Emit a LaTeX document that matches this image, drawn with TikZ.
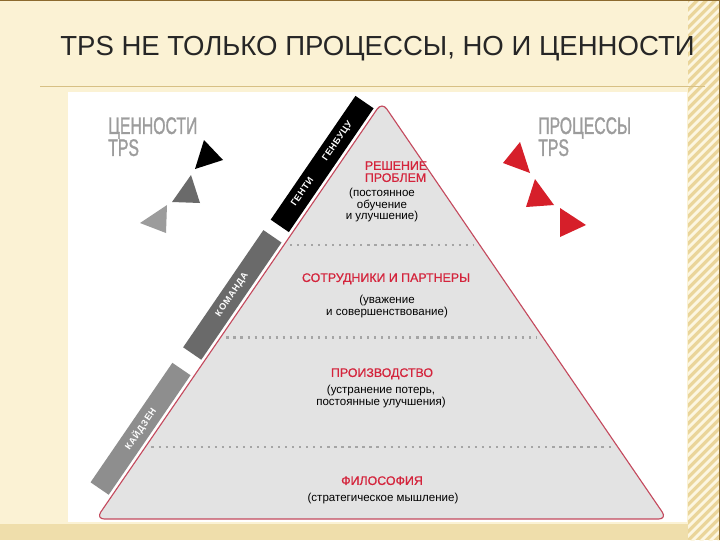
\documentclass[tikz,border=0pt]{standalone}
\usepackage{fontspec}
\setmainfont{Liberation Sans}
\newfontfamily\narrowsans[FakeStretch=0.66,FakeBold=1.2]{Liberation Sans}
\newfontfamily\headfont[FakeBold=0.8]{Liberation Sans}
\usetikzlibrary{calc,positioning}

\definecolor{cream}{HTML}{FBF2D4}
\definecolor{tanstrip}{HTML}{EAD59A}
\definecolor{framebrown}{HTML}{8C6A2E}
\definecolor{titlegray}{HTML}{262626}
\definecolor{labelgray}{HTML}{9C9C9C}
\definecolor{pyrfill}{HTML}{E3E3E3}
\definecolor{pyrline}{HTML}{C44A5E}
\definecolor{headred}{HTML}{D4243C}
\definecolor{tpsred}{HTML}{D61F2A}
\definecolor{banddark}{HTML}{6A6A6A}
\definecolor{bandlight}{HTML}{8E8E8E}
\definecolor{dotgray}{HTML}{A5A5A5}

\tikzset{
  band/.style={rotate=55.6, anchor=south, minimum height=0.55cm, inner sep=0pt,
    text=white, font=\fontsize{6.5}{7}\selectfont\bfseries\addfontfeature{LetterSpace=7}},
  head/.style={text=headred, font=\fontsize{8.8}{8.6}\selectfont\headfont, inner sep=0pt, anchor=north},
  body/.style={text=black, font=\fontsize{8.2}{8.2}\selectfont, align=center, inner sep=0pt, anchor=north},
  dots/.style={dotgray, line width=1.8pt, dash pattern=on 1.6pt off 3.4pt},
  sidelabel/.style={text=labelgray, font=\fontsize{17}{15.6}\selectfont\narrowsans,
    align=left, inner sep=0pt, anchor=north west},
  stripe/.style={cream!70!white, line width=2pt}
}

\begin{document}
\begin{tikzpicture}[x=0.025cm, y=-0.025cm]
  \useasboundingbox (0,0) rectangle (720,540);
  % slide background
  \fill[cream] (0,0) rectangle (720,540);
  \fill[tanstrip!70!cream] (0,524) rectangle (720,540);
  \fill[tanstrip] (688,0) rectangle (720,540);
  \begin{scope}
    \clip (688,0) rectangle (720,540);
    \foreach \k in {0,9,...,600}
      \draw[stripe] (684,\k) -- ++(44,-44);
  \end{scope}
  \draw[framebrown, line width=1.2pt] (0,0.5) -- (719.5,0.5) -- (719.5,540);
  \draw[tanstrip!80!framebrown, line width=0.6pt] (40,86) -- (705,86);
  \node[anchor=base, text=titlegray, font=\fontsize{19.6}{24}\selectfont] (title) at (377.5,55)
    {TPS НЕ ТОЛЬКО ПРОЦЕССЫ, НО И ЦЕННОСТИ};

  % white panel
  \fill[white] (68,92) rectangle (687,522);

  % pyramid corners
  \coordinate (apex) at (382,102);
  \coordinate (bl) at (96,519);
  \coordinate (br) at (667,519);

  % bands along the left side
  \node[band, fill=black, minimum width=3.75cm] (genchi) at ($(apex)!0.168!(bl)+(-2.5,-1.7)$)
    {ГЕНТИ\hspace{16pt}ГЕНБУЦУ\hspace{10pt}};
  \node[band, fill=banddark, minimum width=3.55cm] (team) at ($(apex)!0.482!(bl)+(-2.5,-1.7)$)
    {КОМАНДА};
  \node[band, fill=bandlight, minimum width=3.62cm] (kaizen) at ($(apex)!0.803!(bl)+(-2.5,-1.7)$)
    {КАЙДЗЕН};

  % pyramid
  \draw[pyrline, line width=0.8pt, fill=pyrfill, rounded corners=6pt]
    (apex) -- (br) -- (bl) -- cycle;
  \foreach \t [count=\i] in {0.343,0.565,0.827} {
    \coordinate (d\i l) at ($(apex)!\t!(bl)$);
    \coordinate (d\i r) at ($(apex)!\t!(br)$);
    \draw[dots] ($(d\i l)+(6,0)$) -- ($(d\i r)+(-6,0)$);
  }

  % levels
  \node[head, align=left] (solve) at (396,161) {РЕШЕНИЕ\\ПРОБЛЕМ};
  \node[body] (solvetxt) at (382,188) {(постоянное\\обучение\\и улучшение)};
  \node[head] (people) at (386,273) {СОТРУДНИКИ И ПАРТНЕРЫ};
  \node[body] (peopletxt) at (387,295) {(уважение\\и совершенствование)};
  \node[head] (prod) at (382,368) {ПРОИЗВОДСТВО};
  \node[body] (prodtxt) at (381,385) {(устранение потерь,\\постоянные улучшения)};
  \node[head] (philo) at (382,476) {ФИЛОСОФИЯ};
  \node[body] (philotxt) at (383,493) {(стратегическое мышление)};

  % side labels
  \node[sidelabel] (values) at (108,117) {ЦЕННОСТИ\\TPS};
  \node[sidelabel] (process) at (538,117) {ПРОЦЕССЫ\\TPS};

  % triangles, values side
  \fill[black] (204,140) -- (223,160) -- (195,169) -- cycle;
  \fill[banddark] (191,175) -- (200,203) -- (172,202) -- cycle;
  \fill[labelgray] (167,205) -- (166,233) -- (140,223) -- cycle;
  % triangles, processes side
  \fill[tpsred] (520,142) -- (530,173) -- (503,163) -- cycle;
  \fill[tpsred] (535,179) -- (554,205) -- (526,207) -- cycle;
  \fill[tpsred] (560,208) -- (586,225) -- (560,237) -- cycle;
\end{tikzpicture}
\end{document}
